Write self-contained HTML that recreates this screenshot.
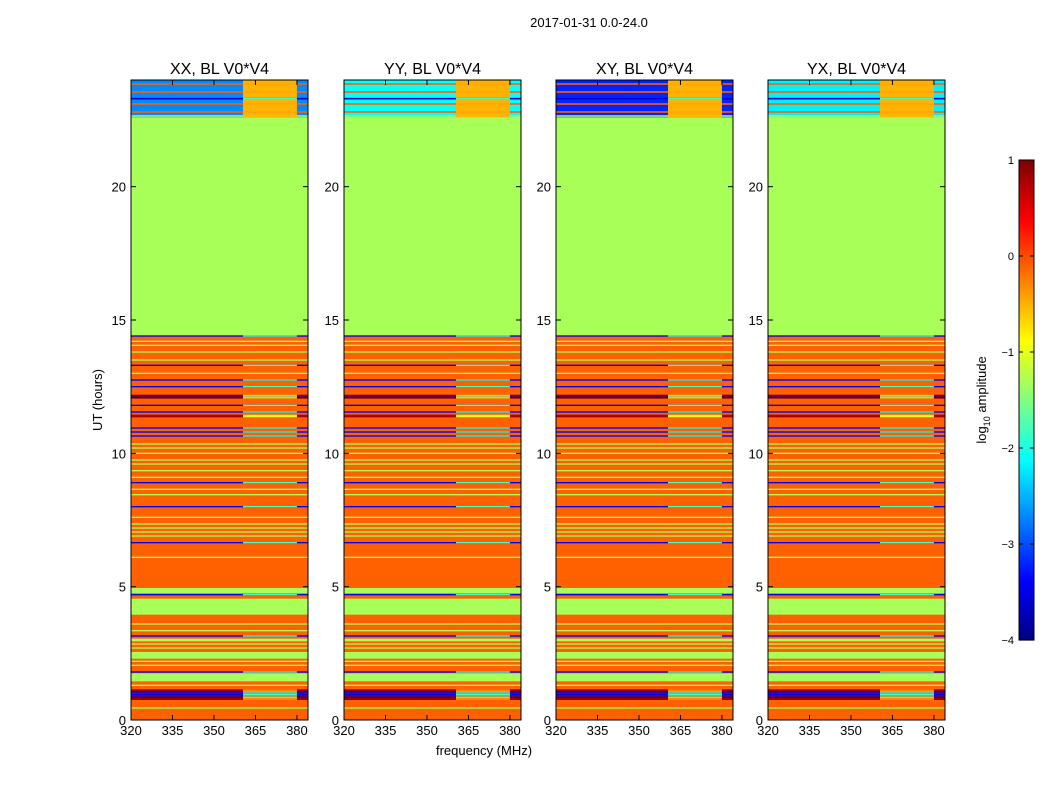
<!DOCTYPE html>
<html><head><meta charset="utf-8">
<style>
body{margin:0;background:#fff;}
svg{display:block;font-family:"Liberation Sans",sans-serif;}
</style></head>
<body>
<svg id="fig" width="1050" height="800">
<text x="589" y="27" font-size="13" text-anchor="middle">2017-01-31 0.0-24.0</text>
<text x="484" y="755" font-size="13" text-anchor="middle">frequency (MHz)</text>
<text transform="translate(102,400) rotate(-90)" font-size="13" text-anchor="middle">UT (hours)</text>
<g id="panels"></g>
<g id="cbar"></g>
</svg>
<script>
// ---- data ----
const panelTitles = ["XX, BL V0*V4","YY, BL V0*V4","XY, BL V0*V4","YX, BL V0*V4"];
const panelTopValue = [-2.7, -2.1, -3.2, -2.2];
const xTicks = [320,335,350,365,380];
const yTicks = [0,5,10,15,20];
const cbTicks = [1,0,-1,-2,-3,-4];
// broad bands: start hour, end hour, value, value in special MHz block
const bandStart = [0, 14.4, 3.95, 4.75, 1.45, 2.3, 2.95, 0.75, 12.05, 11.35];
const bandEnd   = [14.4, 22.6, 4.55, 4.95, 1.75, 2.55, 3.05, 1.15, 12.2, 11.45];
const bandValue = [-0.1, -1.3, -1.3, -1.3, -1.3, -1.3, -1.3, 0.9, 0.9, 0.8];
const bandSpecial=[-0.1, -1.3, -1.3, -1.3, -1.3, -1.3, -1.3, -0.3, -0.6, -1.0];
// thin green lines (hours)
const greenLines = [0.45,1.3,2.05,2.2,2.7,2.85,3.35,3.6,6.1,6.9,7.05,7.2,7.35,7.6,8.45,8.65,9.1,9.35,9.6,9.75,10.0,10.2,10.35,13.0,13.5,13.8,14.05,14.2];
// thin blue lines (hours)
const blueLines = [0.85,0.95,1.05,1.8,3.15,4.7,6.65,8.0,8.9,10.65,10.8,10.95,11.55,11.8,12.1,12.5,12.75,13.3,14.4];
// top region lines (hours) and values
const topLineHour = [22.65,22.8,23.1,23.3,23.55,23.85];
const topLineValue = [-1.3,-0.1,-0.1,-3.6,-0.1,-0.1];
const topSpecialValue = -0.5;

// ---- helpers ----
const NS="http://www.w3.org/2000/svg";
function el(t,a,p){const e=document.createElementNS(NS,t);for(const k in a)e.setAttribute(k,a[k]);p.appendChild(e);return e;}
function jet(v){let n=(v+4)/5;n=Math.max(0,Math.min(1,n));
 const c=x=>Math.round(255*Math.max(0,Math.min(1,x)));
 return `rgb(${c(1.5-Math.abs(4*n-3))},${c(1.5-Math.abs(4*n-2))},${c(1.5-Math.abs(4*n-1))})`;}
const panelX=[131,344,556,768], PW=177, Y0=720, Y1=80;
const yScale=h=>Y0-(h/24)*(Y0-Y1);
const xScale=(x0,f)=>x0+(f-320)/64*PW;
const SP0=360.5, SP1=380;

const panels=document.getElementById('panels');
panelX.forEach((x0,pi)=>{
 const g=el('g',{},panels);
 
 
 function band(h0,h1,v,vs){
  const ya=yScale(h1), yb=yScale(h0);
  const r=el('rect',{x:x0,y:ya,width:PW,height:yb-ya,fill:jet(v)},g);
  
  
  if(vs!==v){
   const xs=xScale(x0,SP0), xe=xScale(x0,SP1);
   const s=el('rect',{x:xs,y:ya,width:xe-xs,height:yb-ya,fill:jet(vs)},g);
   
   
  }
 }
 for(let i=0;i<bandStart.length;i++) band(bandStart[i],bandEnd[i],bandValue[i],bandSpecial[i]);
 greenLines.forEach(h=>band(h-0.025,h+0.025,-1.3,-1.3));
 blueLines.forEach(h=>band(h-0.025,h+0.025,-3.4,-1.8));
 band(22.6,24,panelTopValue[pi],topSpecialValue);
 topLineHour.forEach((h,i)=>band(h-0.03,h+0.03,topLineValue[i],topLineValue[i]<-3?-1.8:topSpecialValue));
 const f=el('rect',{x:x0,y:Y1,width:PW,height:Y0-Y1,fill:'none',stroke:'#000','stroke-width':1},g);
 
 
 const t=el('text',{x:x0+PW/2,y:74,'font-size':16,'text-anchor':'middle'},g);
 t.textContent=panelTitles[pi];
 
 
 xTicks.forEach(v=>{const x=xScale(x0,v);
  el('line',{x1:x,x2:x,y1:Y0,y2:Y0-5,stroke:'#000'},g);
  el('line',{x1:x,x2:x,y1:Y1,y2:Y1+5,stroke:'#000'},g);
  const l=el('text',{x:x,y:735,'font-size':13,'text-anchor':'middle'},g);l.textContent=v;
  
  });
 yTicks.forEach(v=>{const y=yScale(v);
  el('line',{x1:x0,x2:x0+5,y1:y,y2:y,stroke:'#000'},g);
  el('line',{x1:x0+PW,x2:x0+PW-5,y1:y,y2:y,stroke:'#000'},g);
  const l=el('text',{x:x0-5,y:y+5,'font-size':13,'text-anchor':'end'},g);l.textContent=v;
  
  });
});

// colorbar
const cb=document.getElementById('cbar');
const CX=1019,CW=15,CT=160,CB=640;
const cbY=v=>CB-(v+4)/5*(CB-CT);
for(let i=0;i<200;i++){const v=-4+5*i/200;const y1=cbY(v+5/200),y2=cbY(v);
 const r=el('rect',{x:CX,y:y1,width:CW,height:y2-y1+0.6,fill:jet(v+2.5/200)},cb);
 
 }
const cf=el('rect',{x:CX,y:CT,width:CW,height:CB-CT,fill:'none',stroke:'#000'},cb);


cbTicks.forEach(v=>{const y=cbY(v);
 el('line',{x1:CX,x2:CX+4,y1:y,y2:y,stroke:'#000'},cb);
 el('line',{x1:CX+CW,x2:CX+CW-4,y1:y,y2:y,stroke:'#000'},cb);
 const l=el('text',{x:CX-5,y:y+4,'font-size':11,'text-anchor':'end'},cb);
 l.textContent=v<0?'\u2212'+(-v):v;
 
 });
const lab=el('text',{transform:'translate(986,400) rotate(-90)','font-size':13,'text-anchor':'middle'},cb);
lab.innerHTML='log<tspan font-size="9" dy="4">10</tspan><tspan dy="-4"> amplitude</tspan>';


</script>
</body></html>
